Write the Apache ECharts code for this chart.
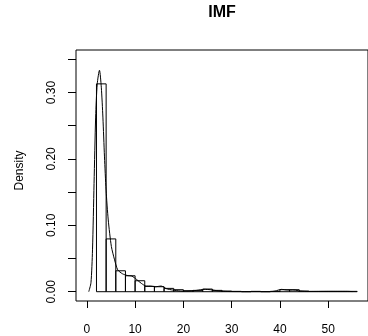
<!DOCTYPE html>
<html>
<head>
<meta charset="utf-8">
<script src="https://cdn.jsdelivr.net/npm/echarts@6/dist/echarts.min.js"></script>
<style>
html,body{margin:0;padding:0;background:#fff;}
#chart{width:368px;height:336px;}
</style>
</head>
<body>
<div id="chart"></div>
<script>
// Histogram bins (left edges), bin width 2, densities
const binStarts = [2,4,6,8,10,12,14,16,18,20,22,24,26,28,30,32,34,36,38,40,42,44,46,48,50,52,54];
const binWidth = 2;
const binDensity = [0.313,0.0795,0.0315,0.024,0.0165,0.008,0.0075,0.005,0.003,0.0015,0.002,0.004,0.002,0.001,0.0005,0,0.0005,0,0.0005,0.003,0.003,0.001,0.0005,0.0005,0.0005,0.0005,0.0005];

// Kernel density curve
const densX = [0.4,0.86,1.18,1.5,1.83,2.16,2.62,3.0,3.33,3.66,3.99,4.44,5.09,5.75,6.4,7.38,8.36,9.33,10.3,11.3,12.3,13.2,14.2,15.4,16.5,17.8,19.4,20.7,22.7,24.3,25.6,27.3,29.2,32,35,38,39,40.3,41.6,42.9,44.2,46,48,50,52,54,55];
const densY = [0,0.0135,0.063,0.163,0.263,0.313,0.3335,0.308,0.263,0.203,0.153,0.108,0.068,0.048,0.033,0.027,0.0245,0.0235,0.0185,0.0125,0.0085,0.0085,0.0075,0.0085,0.0045,0.0025,0.001,0.0008,0.002,0.0035,0.003,0.0012,0.0003,0.0002,0.0002,0.0002,0.001,0.0035,0.0025,0.0025,0.001,0.0003,0.0004,0.0005,0.0005,0.0005,0.0002];

const xTicks = [0,10,20,30,40,50];
const yTicks = [0,0.05,0.1,0.15,0.2,0.25,0.3,0.35];
const yLabels = [0,0.1,0.2,0.3];

const FONT = '"Liberation Sans", Arial, Helvetica, sans-serif';

const histData = binStarts.map((s,i)=>[s, s+binWidth, binDensity[i]]);
const curveData = densX.map((x,i)=>[x, densY[i]]);

const chart = echarts.init(document.getElementById('chart'), null, {renderer:'canvas'});
chart.setOption({
  animation:false,
  backgroundColor:'#fff',
  textStyle:{fontFamily:FONT},
  graphic:[{
    type:'text', x:222, y:12.5,
    style:{text:'IMF', fill:'#000', font:'bold 16px ' + FONT,
      align:'center', verticalAlign:'middle', textAlign:'center', textVerticalAlign:'middle'}
  }],
  grid:{left:76, top:50, right:-17, bottom:35, show:true, borderColor:'#000', borderWidth:1, backgroundColor:'transparent'},
  xAxis:{
    type:'value', min:-2.24, max:58.24,
    axisLine:{show:false, onZero:false},
    splitLine:{show:false},
    axisTick:{show:true, customValues:xTicks, length:7, lineStyle:{color:'#000', width:1}},
    axisLabel:{customValues:xTicks, fontSize:12, color:'#000', fontFamily:FONT, margin:23}
  },
  yAxis:{
    type:'value', min:-0.014, max:0.364,
    name:'Density', nameLocation:'middle', nameRotate:90, nameGap:50,
    nameTextStyle:{fontSize:12, color:'#000', fontFamily:FONT, padding:[0,0,0,10]},
    axisLine:{show:false, onZero:false},
    splitLine:{show:false},
    axisTick:{show:true, customValues:yTicks, length:8, lineStyle:{color:'#000', width:1}},
    axisLabel:{customValues:yLabels, rotate:90, fontSize:12, color:'#000', fontFamily:FONT, margin:18,
      formatter:v=>Number(v).toFixed(2)}
  },
  series:[
    {
      type:'custom',
      data:histData,
      encode:{x:[0,1], y:2},
      renderItem:function(params, api){
        const p0 = api.coord([api.value(0), api.value(2)]);
        const p1 = api.coord([api.value(1), 0]);
        return {
          type:'rect',
          shape:{x:p0[0], y:p0[1], width:p1[0]-p0[0], height:p1[1]-p0[1]},
          style:{fill:'transparent', stroke:'#000', lineWidth:1}
        };
      }
    },
    {
      type:'line',
      data:curveData,
      showSymbol:false,
      smooth:0.25,
      lineStyle:{color:'#000', width:1},
      z:3
    }
  ]
});
</script>
</body>
</html>
